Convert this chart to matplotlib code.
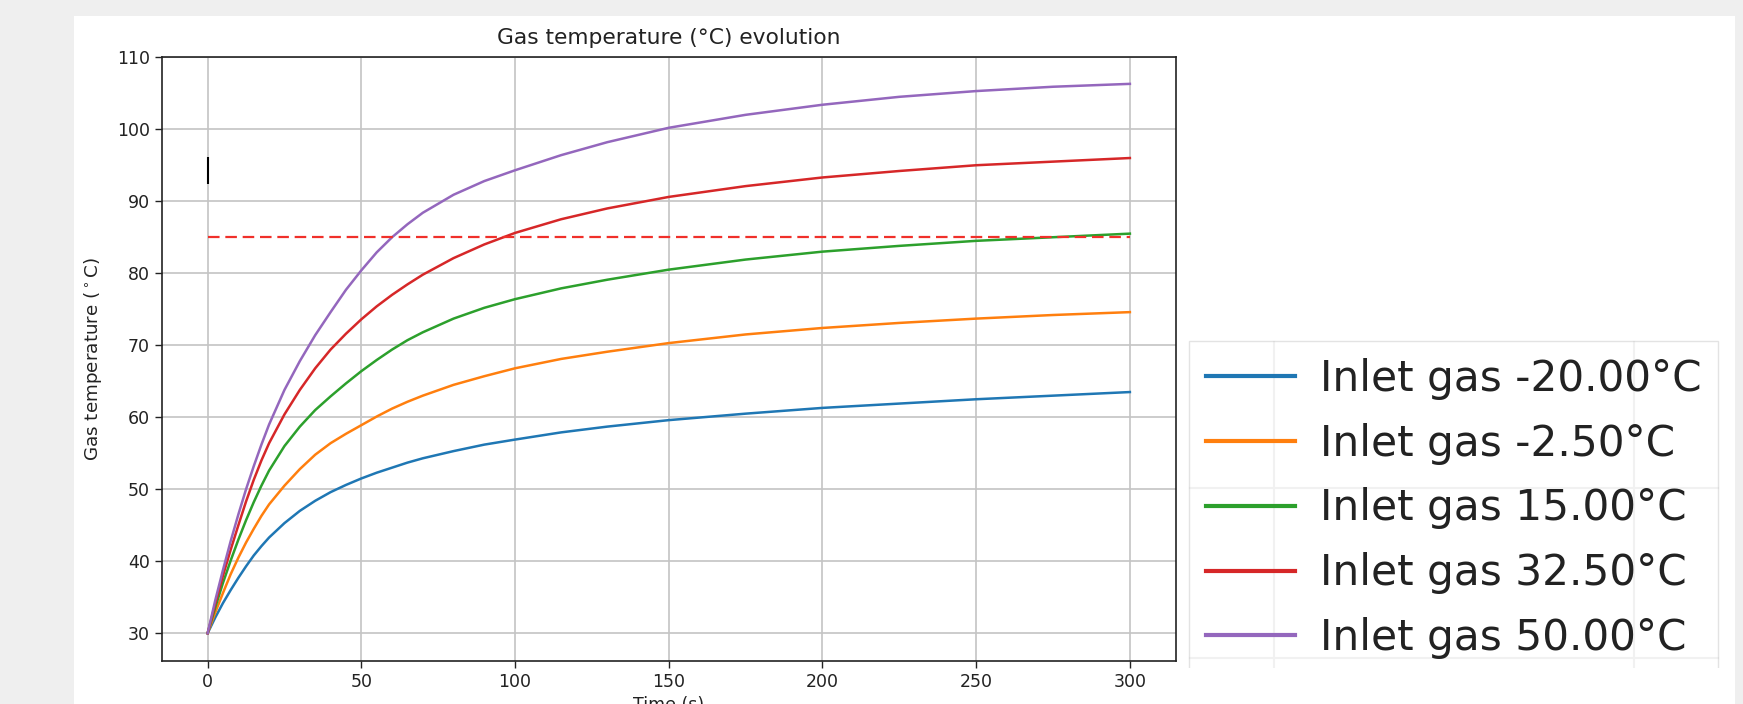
import matplotlib
matplotlib.use("Agg")
import matplotlib.pyplot as plt
from matplotlib.patches import Rectangle
from matplotlib.lines import Line2D

# ---- data ----
time_s = [0, 2.5, 5, 7.5, 10, 12.5, 15, 17.5, 20, 25, 30, 35, 40, 45, 50, 55, 60, 65,
          70, 80, 90, 100, 115, 130, 150, 175, 200, 225, 250, 275, 300]
temp_m20 = [30, 32.2, 34.2, 36.0, 37.7, 39.3, 40.8, 42.1, 43.3, 45.3, 47.0, 48.4, 49.6, 50.6, 51.5, 52.3, 53.0, 53.7,
            54.3, 55.3, 56.2, 56.9, 57.9, 58.7, 59.6, 60.5, 61.3, 61.9, 62.5, 63.0, 63.5]
temp_m2_5 = [30, 32.9, 35.6, 38.2, 40.5, 42.6, 44.5, 46.3, 47.9, 50.5, 52.8, 54.8, 56.4, 57.7, 58.9, 60.1, 61.2, 62.15,
             63.0, 64.5, 65.7, 66.8, 68.1, 69.1, 70.3, 71.5, 72.4, 73.1, 73.7, 74.2, 74.6]
temp_15 = [30, 33.6, 37.0, 40.1, 43.0, 45.7, 48.2, 50.5, 52.6, 56.0, 58.7, 61.0, 62.9, 64.7, 66.4, 67.95, 69.4, 70.7,
           71.8, 73.7, 75.2, 76.4, 77.9, 79.1, 80.5, 81.9, 83.0, 83.8, 84.5, 85.0, 85.5]
temp_32_5 = [30, 34.1, 38.0, 41.6, 45.0, 48.3, 51.3, 54.0, 56.4, 60.4, 63.8, 66.8, 69.4, 71.6, 73.6, 75.4, 77.0, 78.45,
             79.8, 82.1, 84.0, 85.6, 87.5, 89.0, 90.6, 92.1, 93.3, 94.2, 95.0, 95.5, 96.0]
temp_50 = [30, 34.6, 38.8, 42.8, 46.5, 50.0, 53.2, 56.2, 59.0, 63.8, 67.8, 71.4, 74.6, 77.7, 80.4, 82.9, 85.0, 86.8,
           88.4, 90.9, 92.8, 94.3, 96.4, 98.2, 100.2, 102.0, 103.4, 104.5, 105.3, 105.9, 106.3]
series = [temp_m20, temp_m2_5, temp_15, temp_32_5, temp_50]
labels = ["Inlet gas -20.00°C", "Inlet gas -2.50°C", "Inlet gas 15.00°C",
          "Inlet gas 32.50°C", "Inlet gas 50.00°C"]
colors = ["#1f77b4", "#ff7f0e", "#2ca02c", "#d62728", "#9467bd"]

limit_temp = 85.0
limit_t = [0, 300]
mark_t = 0
mark_low, mark_high = 92.4, 96.1

W, H = 1743, 704
fig = plt.figure(figsize=(W / 100, H / 100), dpi=100, facecolor="#efefef")

# white canvas area of the screenshot
fig.patches.append(Rectangle((74 / W, 0), (1735 - 74) / W, (H - 16) / H,
                             transform=fig.transFigure, facecolor="white",
                             edgecolor="none", zorder=-5))

ax = fig.add_axes([161.5 / W, (H - 661) / H, (1176 - 161.5) / W, (661 - 56.5) / H])
ax.set_zorder(1)
for y, c in zip(series, colors):
    ax.plot(time_s, y, color=c, lw=1.8, solid_joinstyle="round")
ax.plot(limit_t, [limit_temp, limit_temp], color="#f0302a", lw=1.6,
        linestyle=(0, (5.2, 2.6)))
ax.vlines(mark_t, mark_low, mark_high, color="black", lw=1.5)

ax.set_xlim(-15, 315)
ax.set_ylim(26.15, 110.1)
ax.set_xticks([0, 50, 100, 150, 200, 250, 300])
ax.set_yticks([30, 40, 50, 60, 70, 80, 90, 100, 110])
ax.grid(True, color="#c4c4c4", lw=1.2)
ax.tick_params(labelsize=12.5, length=5, width=1, colors="#222222")
for s in ax.spines.values():
    s.set_linewidth(1.2)
    s.set_color("#222222")
ax.set_title("Gas temperature (°C) evolution", fontsize=15.7, color="#222222", pad=9)
ax.set_xlabel("Time (s)", fontsize=12.5, color="#222222")
ax.set_ylabel("Gas temperature ($^\\circ$C)", fontsize=13.2, color="#222222", labelpad=9)

# faint lines seen through the legend
for xv in (1274, 1634):
    fig.lines.append(Line2D([xv / W, xv / W], [1 - 668 / H, 1 - 342 / H],
                            transform=fig.transFigure, color="#bdbdbd", lw=1.5, zorder=4))
for yv in (488, 658):
    fig.lines.append(Line2D([1190 / W, 1718 / W], [1 - yv / H, 1 - yv / H],
                            transform=fig.transFigure, color="#bdbdbd", lw=1.5, zorder=4))

# large legend on the right (bottom is cropped in the reference)
handles = [Line2D([], [], color=c, lw=3) for c in colors]
leg = fig.legend(handles, labels, loc="upper left",
                 bbox_to_anchor=(1189 / W, 1 - 341 / H), borderaxespad=0,
                 fontsize=30.4, handlelength=2.1, handletextpad=0.6,
                 labelspacing=0.54, borderpad=0.4, framealpha=0.8,
                 edgecolor="#dddddd", fancybox=False)
for t in leg.get_texts():
    t.set_color("#222222")
leg.set_zorder(5)

# crop of the legend bottom
fig.patches.append(Rectangle((1180 / W, 0), (1735 - 1180) / W, (H - 668) / H,
                             transform=fig.transFigure, facecolor="white",
                             edgecolor="none", zorder=10))

fig.savefig("out.png", dpi=100, facecolor=fig.get_facecolor())
